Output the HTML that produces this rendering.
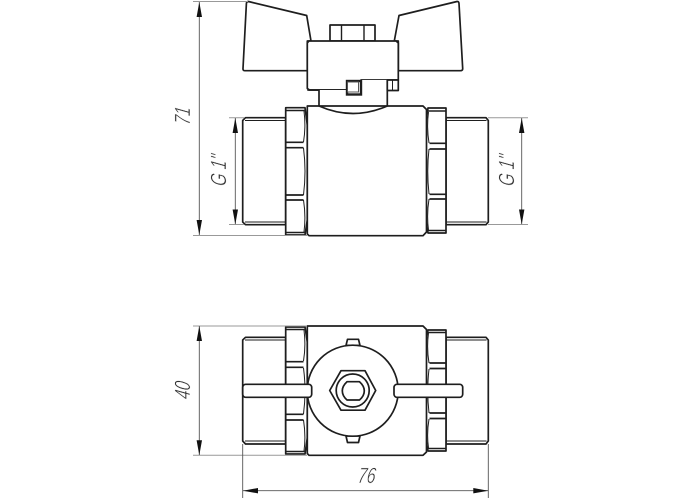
<!DOCTYPE html>
<html><head><meta charset="utf-8"><style>
html,body{margin:0;padding:0;background:#fff;width:700px;height:500px;overflow:hidden}
svg{display:block}
.k{fill:#fff;stroke:#1e1e1e;stroke-width:1.7;stroke-linejoin:round}
.n{fill:none;stroke:#1e1e1e;stroke-width:1.7;stroke-linejoin:round}
.t{fill:none;stroke:#1e1e1e;stroke-width:1}
.d{fill:none;stroke:#555;stroke-width:.9}
.e{fill:none;stroke:#999;stroke-width:1}
.a{fill:#111;stroke:none}
text{font-family:"Liberation Sans",sans-serif;font-style:italic;font-size:22px;fill:#333;text-anchor:middle;stroke:#fff;stroke-width:.45}
</style></head><body>
<svg width="700" height="500" viewBox="0 0 700 500" xmlns="http://www.w3.org/2000/svg">

<!-- TOP VIEW: handle -->
<path class="k" d="M311 41 L306.7 15.5 L248.5 1.5 Q246.5 1.5 246.4 3.5 L243 68.5 Q242.8 70.7 245 70.7 L307.3 70.7 L307.3 41 Z"/>
<path class="k" d="M394.3 41 L399 15.5 L457 1.5 Q458.8 1.3 459 3.5 L462.7 68.5 Q462.8 70.7 460.5 70.7 L398.3 70.7 L398.3 41 Z"/>
<rect class="k" x="330" y="25" width="45" height="16"/>
<path class="t" style="stroke-width:1.4" d="M341.5 25V41M364 25V41"/>
<path class="k" d="M309 41 H396 L398.3 43 V80 H361 V90 H309.5 L307.3 88.5 V43 Z"/>
<path class="n" d="M307.3 90 H346"/>

<!-- neck -->
<path d="M319 90 V106 H387.3 V80 H361 V90 Z" fill="#fff"/>
<path class="n" d="M319 90 V106 M387.3 80 V106"/>
<rect class="k" x="387.3" y="80" width="11" height="10.5"/>
<path class="t" d="M392.5 80V90.5"/>

<!-- TOP VIEW: stems -->
<path class="k" d="M285.7 117.7 H245.5 L242.7 120.5 V222 L245.5 224.7 H285.7 Z"/>
<path class="k" d="M446 117.7 H486 L488.3 120.5 V222 L486 224.7 H446 Z"/>
<path class="t" d="M446 120.5 H486.5 M446 222 H486.5"/>
<path class="t" d="M245 120.5 H285.7 M245 222 H285.7"/>

<!-- TOP VIEW: nuts -->
<path class="k" d="M285.7 107.7 H305 L307.3 125 V220 L305 235 H285.7 Z"/>
<path class="t" style="stroke-width:1.4" d="M285.7 110.5 H304.5 M285.7 232.5 H304.5"/>
<path class="n" d="M285.7 142.3 H303.5 M285.7 147.7 H303.5 M285.7 195 H303.5 M285.7 200 H303.5"/>
<path class="t" d="M304 111 Q306 127 303.5 142 M303.5 148 Q306.5 171 303.5 195 M303.5 200 Q306 216 304 232"/>
<path class="k" d="M428 108 H446 V233 H428 L425.5 218 V125 Z"/>
<path class="t" style="stroke-width:1.4" d="M428 111 H446 M428 230.5 H446"/>
<path class="n" d="M429.5 143.3 H446 M429.5 149 H446 M429.5 194.3 H446 M429.5 199 H446"/>
<path class="t" d="M428.5 112 Q426.5 127 429 143 M429 149 Q426.5 171 429 194 M429 199 Q426.5 215 428.5 230"/>

<!-- TOP VIEW: body -->
<path class="k" d="M307.3 106 H423 L426.5 109.5 V232 L423 235.7 H309 L307.3 234 Z"/>
<path class="n" d="M319 106 Q353 121 387.3 106"/>
<rect x="347" y="81" width="14" height="13.5" fill="#fff" stroke="#1e1e1e" stroke-width="2.4"/>
<rect x="347.5" y="82" width="11" height="10" fill="#fff" stroke="#555" stroke-width="1"/>

<!-- BOTTOM VIEW: stems -->
<path class="k" d="M285.7 337.3 H245.5 L242.7 340 V441 L245.5 444 H285.7 Z"/>
<path class="k" d="M446 337.3 H486 L488.3 340 V441 L486 444 H446 Z"/>
<path class="t" d="M245 340 H285.7 M245 441 H285.7 M446 340 H486.5 M446 441 H486.5"/>

<!-- BOTTOM VIEW: nuts -->
<path class="k" d="M285.7 327 H305 L307.3 342 V438 L305 454 H285.7 Z"/>
<path class="t" style="stroke-width:1.4" d="M285.7 329.5 H304.5 M285.7 451.5 H304.5"/>
<path class="n" d="M285.7 361.7 H303.5 M285.7 367.3 H303.5 M285.7 414.3 H303.5 M285.7 420 H303.5"/>
<path class="t" d="M304 330 Q306 346 303.5 361 M303.5 368 Q306.5 391 303.5 414 M303.5 420 Q306 436 304 451"/>
<path class="k" d="M428 330 H446 V451 H428 L425.5 438 V343 Z"/>
<path class="t" style="stroke-width:1.4" d="M428 332.5 H446 M428 448.5 H446"/>
<path class="n" d="M429.5 363 H446 M429.5 368.5 H446 M429.5 413 H446 M429.5 418.5 H446"/>
<path class="t" d="M428.5 333 Q426.5 348 429 363 M429 369 Q426.5 391 429 413 M429 419 Q426.5 434 428.5 448"/>

<!-- BOTTOM VIEW: body -->
<path class="k" d="M307.3 326 H423 L426.5 329.5 V452 L423 455.3 H309 L307.3 453.5 Z"/>
<path class="k" d="M346 345.5 L347.5 339.3 H358.5 L360 345.5 Z"/>
<path class="k" d="M346 436 L347.5 442.5 H358.5 L360 436 Z"/>
<circle class="k" cx="352.7" cy="390.7" r="45.5"/>
<path class="k" d="M329.7 390.5 L341 370.7 H365 L375.7 390.5 L365 410.2 H341 Z"/>
<circle class="n" cx="352.7" cy="390.5" r="16.5"/>
<path class="n" d="M347 381.7 H359.5 Q364.3 386 364.3 390.8 Q364.3 396 359.5 400 H347 Q342.3 396 342.3 390.8 Q342.3 386 347 381.7 Z"/>

<!-- BOTTOM VIEW: handle bars -->
<rect class="k" x="242.7" y="384.3" width="69" height="13" rx="3"/>
<rect class="k" x="394" y="384.3" width="68.7" height="13" rx="3"/>

<!-- DIMENSIONS: 71 -->
<path class="e" d="M193 1.5 H248 M193 235.5 H307"/>
<path class="d" d="M199.3 2 V235"/>
<path class="a" d="M199.3 2 L202 17 H196.6 Z M199.3 235 L196.6 220 H202 Z"/>
<!-- G1 left -->
<path class="e" d="M229 117.7 H244 M229 224.5 H244"/>
<path class="d" d="M235.3 118 V224"/>
<path class="a" d="M235.3 118 L238 133 H232.6 Z M235.3 224.5 L232.6 209.5 H238 Z"/>
<!-- G1 right -->
<path class="e" d="M488 117.7 H528 M488 224.5 H528"/>
<path class="d" d="M521.7 118 V224"/>
<path class="a" d="M521.7 118 L524.4 133 H519 Z M521.7 224.5 L519 209.5 H524.4 Z"/>
<!-- 40 -->
<path class="e" d="M193 326 H307 M193 455.3 H307"/>
<path class="d" d="M199.3 326 V455"/>
<path class="a" d="M199.3 326 L202 341 H196.6 Z M199.3 455.3 L196.6 440.3 H202 Z"/>
<!-- 76 -->
<path class="d" d="M242.7 444 V498 M488.3 444 V498 M243 490.7 H488"/>
<path class="a" d="M243 490.7 L258 488 V493.4 Z M488.3 490.7 L473.3 488 V493.4 Z"/>

<text transform="translate(190,116.5) rotate(-90) skewX(-8) scale(.72,1)">71</text>
<text transform="translate(226,171) rotate(-90) skewX(-8) scale(.72,1)">G 1"</text>
<text transform="translate(514,171) rotate(-90) skewX(-8) scale(.72,1)">G 1"</text>
<text transform="translate(190,391) rotate(-90) skewX(-8) scale(.72,1)">40</text>
<text transform="translate(366,483) skewX(-8) scale(.72,1)">76</text>
</svg>
</body></html>
